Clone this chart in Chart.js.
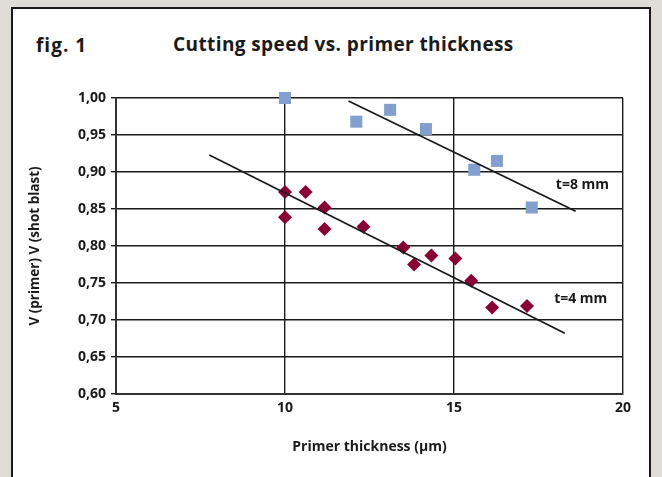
<!DOCTYPE html>
<html>
<head>
<meta charset="utf-8">
<script src="https://cdn.jsdelivr.net/npm/chart.js@4.4.0/dist/chart.umd.min.js"></script>
<style>
  html, body { margin: 0; padding: 0; }
  body { width: 662px; height: 477px; background: #e0dcd8; position: relative; overflow: hidden;
         font-family: 'Open Sans', sans-serif; }
  #panel { position: absolute; left: 11px; top: 7px; width: 636px; height: 500px;
           border: 2px solid #1a1a1a; background: #fff; }
  #fig { position: absolute; left: 36px; top: 32px; font-size: 19px; font-weight: 700; color: #1a1a1a;
         line-height: 26px; letter-spacing: 1px; }
  #title { position: absolute; left: 173px; top: 31px; font-size: 19px; font-weight: 700; color: #1a1a1a;
           line-height: 26px; letter-spacing: 0.4px; }
  #chart { position: absolute; left: 0; top: 0; }
</style>
</head>
<body>
<div id="panel"></div>
<div id="fig">fig. 1</div>
<div id="title">Cutting speed vs. primer thickness</div>
<canvas id="chart" width="662" height="477"></canvas>
<script>
// t=8 mm measurements
const T8_X = [10.0, 12.11, 13.11, 14.17, 15.6, 16.27, 17.3];
const T8_Y = [1.000, 0.968, 0.984, 0.958, 0.903, 0.915, 0.852];
// t=4 mm measurements
const T4_X = [10.0, 10.61, 11.17, 10.0, 11.17, 12.32, 13.5, 13.82, 14.33, 15.04, 15.51, 16.13, 17.16];
const T4_Y = [0.873, 0.873, 0.852, 0.839, 0.823, 0.826, 0.798, 0.775, 0.787, 0.783, 0.753, 0.717, 0.719];
// trend line end points
const TREND8_X = [11.88, 18.6];
const TREND8_Y = [0.996, 0.847];
const TREND4_X = [7.76, 18.28];
const TREND4_Y = [0.923, 0.682];
// series labels: text, x, y
const SERIES_LABELS = [['t=8 mm', 18.8, 0.882], ['t=4 mm', 18.75, 0.728]];
const X_MIN = 5, X_MAX = 20, X_STEP = 5;
const Y_MIN = 0.6, Y_MAX = 1.0, Y_STEP = 0.05;

const pts = (xs, ys) => xs.map((x, i) => ({ x, y: ys[i] }));
const INK = '#1a1a1a';
const FONT = "'Open Sans', sans-serif";

const seriesLabels = {
  id: 'seriesLabels',
  afterDatasetsDraw(chart) {
    const { ctx, scales } = chart;
    ctx.save();
    ctx.font = `700 14px ${FONT}`;
    ctx.fillStyle = INK;
    ctx.textAlign = 'center';
    ctx.textBaseline = 'middle';
    SERIES_LABELS.forEach(([t, x, y]) => {
      ctx.fillText(t, scales.x.getPixelForValue(x), scales.y.getPixelForValue(y));
    });
    ctx.restore();
  }
};

new Chart(document.getElementById('chart'), {
  type: 'scatter',
  data: {
    datasets: [
      { data: pts(TREND8_X, TREND8_Y), showLine: true, borderColor: INK, borderWidth: 1.8, pointRadius: 0 },
      { data: pts(TREND4_X, TREND4_Y), showLine: true, borderColor: INK, borderWidth: 1.8, pointRadius: 0 },
      { label: 't=8 mm', data: pts(T8_X, T8_Y), pointStyle: 'rect', pointRadius: 8.5, clip: false,
        backgroundColor: '#819fcf', borderColor: '#819fcf', borderWidth: 0 },
      { label: 't=4 mm', data: pts(T4_X, T4_Y), pointStyle: 'rectRot', pointRadius: 7, clip: false,
        backgroundColor: '#8a0033', borderColor: '#8a0033', borderWidth: 0 }
    ]
  },
  options: {
    responsive: false,
    animation: false,
    layout: { padding: { left: 20, top: 98, right: 39, bottom: 13 } },
    plugins: { legend: { display: false }, tooltip: { enabled: false }, title: { display: false } },
    scales: {
      x: {
        type: 'linear', min: X_MIN, max: X_MAX,
        afterFit: s => { s.height = 70; },
        ticks: { stepSize: X_STEP, padding: 6, color: INK, font: { family: FONT, size: 14, weight: '700' } },
        grid: { color: INK, lineWidth: 1.4, drawTicks: false },
        border: { color: '#333', width: 2 },
        title: { display: true, text: 'Primer thickness (µm)', color: INK, padding: { top: 0, bottom: 9 },
                 font: { family: FONT, size: 14, weight: '700' } }
      },
      y: {
        type: 'linear', min: Y_MIN, max: Y_MAX,
        afterFit: s => { s.width = 96; },
        ticks: { stepSize: Y_STEP, padding: 5, color: INK, font: { family: FONT, size: 14, weight: '700' },
                 callback: v => v.toFixed(2).replace('.', ',') },
        grid: { color: INK, lineWidth: 1.4, tickLength: 5 },
        border: { color: '#333', width: 2 },
        title: { display: true, text: 'V (primer) V (shot blast)', color: INK, padding: { top: 7, bottom: 0 },
                 font: { family: FONT, size: 13.5, weight: '700' } }
      }
    }
  },
  plugins: [seriesLabels]
});
</script>
</body>
</html>
